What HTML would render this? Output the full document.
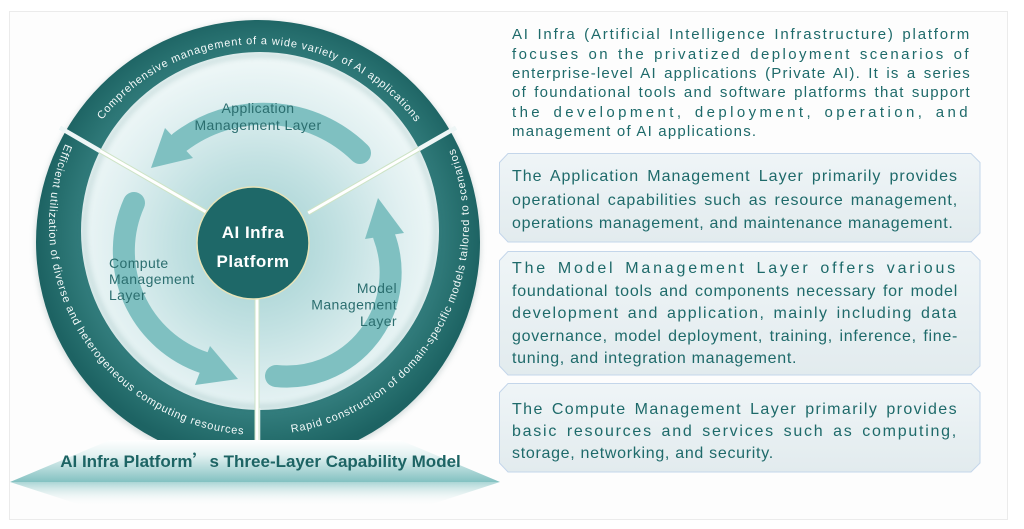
<!DOCTYPE html>
<html>
<head>
<meta charset="utf-8">
<style>
html,body{margin:0;padding:0;background:#ffffff;}
body{width:1024px;height:529px;overflow:hidden;position:relative;font-family:"Liberation Sans","Noto Sans CJK SC",sans-serif;}
svg{position:absolute;left:0;top:0;}
.blk{position:absolute;color:#1e6a6a;}
.p1 div{height:19.4px;line-height:19.4px;font-size:15px;overflow:hidden;text-align:justify;text-align-last:justify;}
.bx div{font-size:16px;overflow:hidden;text-align:justify;text-align-last:justify;}
.b1 div{height:23.5px;line-height:23.5px;}
.b2 div{height:22.5px;line-height:22.5px;}
.b3 div{height:22px;line-height:22px;}
div.last{text-align:left;text-align-last:left;}
</style>
</head>
<body>
<svg width="1024" height="529" viewBox="0 0 1024 529" xmlns="http://www.w3.org/2000/svg">
<defs>
  <radialGradient id="inner" cx="257" cy="246" r="186" gradientUnits="userSpaceOnUse">
    <stop offset="0" stop-color="#9fcfd0"/>
    <stop offset="0.45" stop-color="#c2e1e2"/>
    <stop offset="0.8" stop-color="#e1f0f1"/>
    <stop offset="1" stop-color="#eef7f7"/>
  </radialGradient>
  <radialGradient id="ringg" cx="259" cy="236" r="222" gradientUnits="userSpaceOnUse">
    <stop offset="0.8" stop-color="#327c7c"/>
    <stop offset="0.9" stop-color="#27706f"/>
    <stop offset="1" stop-color="#1d6363"/>
  </radialGradient>
  <linearGradient id="plat" x1="0" y1="440" x2="0" y2="483" gradientUnits="userSpaceOnUse">
    <stop offset="0" stop-color="#ffffff"/>
    <stop offset="0.35" stop-color="#e4f2f2"/>
    <stop offset="1" stop-color="#7fbfbf"/>
  </linearGradient>
  <linearGradient id="platr" x1="0" y1="482" x2="0" y2="506" gradientUnits="userSpaceOnUse">
    <stop offset="0" stop-color="#a6d3d3" stop-opacity="0.95"/>
    <stop offset="1" stop-color="#fdfdfd" stop-opacity="0"/>
  </linearGradient>
  <linearGradient id="box" x1="0" y1="0" x2="0" y2="1">
    <stop offset="0" stop-color="#eff5f7"/>
    <stop offset="1" stop-color="#e2ebee"/>
  </linearGradient>
  <filter id="blur" x="-20%" y="-20%" width="140%" height="140%"><feGaussianBlur stdDeviation="3"/></filter>
  <clipPath id="cut"><rect x="0" y="0" width="1024" height="441"/></clipPath>
  <path id="tpTop" d="M 78.6 158.3 A 198 198 0 0 1 437.4 158.3"/>
  <path id="tpLeft" d="M 87 104.6 A 210 210 0 0 0 277.3 434.2"/>
  <path id="tpRight" d="M 240.7 434.2 A 210 210 0 0 0 431 104.6"/>
</defs>

<!-- frame -->
<rect x="9.5" y="11.5" width="998" height="508" fill="#fdfdfd" stroke="#ebebeb" stroke-width="1"/>

<g clip-path="url(#cut)">
  <circle cx="258" cy="244" r="223" fill="#8fa5a5" opacity="0.35" filter="url(#blur)"/>
  <!-- interior -->
  <circle cx="260" cy="231" r="181" fill="url(#inner)"/>
  <!-- ring -->
  <path fill="url(#ringg)" fill-rule="evenodd" d="M 36 242 A 222 222 0 1 0 480 242 A 222 222 0 1 0 36 242 Z M 81 231 A 179 179 0 1 1 439 231 A 179 179 0 1 1 81 231 Z"/>
  <!-- inner shadow of ring -->
  <circle cx="260" cy="231" r="176" fill="none" stroke="#2b6f6f" stroke-width="4" opacity="0.22" filter="url(#blur)"/>
</g>

<!-- gap lines in ring -->
<g stroke="#eef6f6" stroke-width="4.5">
  <line x1="101" y1="151.5" x2="60" y2="127.7"/>
  <line x1="418" y1="149.5" x2="456" y2="127.7"/>
  <line x1="258" y1="408" x2="258" y2="441"/>
</g>

<!-- divider lines -->
<g stroke="#cde3c5" stroke-width="5">
  <line x1="207.8" y1="213" x2="100" y2="150.8"/>
  <line x1="308.2" y1="213" x2="419" y2="149"/>
  <line x1="257" y1="298" x2="257" y2="441"/>
</g>
<g stroke="#ffffff" stroke-width="3">
  <line x1="207.8" y1="213" x2="100" y2="150.8"/>
  <line x1="308.2" y1="213" x2="419" y2="149"/>
  <line x1="257" y1="298" x2="257" y2="441"/>
</g>

<!-- arrows -->
<g fill="none" stroke="#7fc0c1" stroke-width="22" stroke-linecap="round">
  <path d="M 360 153 A 138 138 0 0 0 180 142"/>
  <path d="M 134 203 A 118 118 0 0 0 203.8 362.6"/>
  <path d="M 276 376 A 104 104 0 0 0 384 236"/>
</g>
<g fill="#7fc0c1">
  <polygon points="151,168 165,128 193,158"/>
  <polygon points="238,379 210,346 195,385"/>
  <polygon points="378,198 365,239 404,233"/>
</g>

<!-- center disc -->
<circle cx="253" cy="243" r="56" fill="#1e6868" stroke="#e7e3b8" stroke-width="1.5"/>
<g fill="#ffffff" font-family="Liberation Sans, sans-serif" font-weight="bold" font-size="17" text-anchor="middle" letter-spacing="0.5">
  <text x="253" y="238">AI Infra</text>
  <text x="253" y="267">Platform</text>
</g>

<!-- labels -->
<g fill="#2b6e6f" font-family="Liberation Sans, sans-serif" font-size="14" letter-spacing="0.4">
  <text x="258" y="113" text-anchor="middle">Application</text>
  <text x="258" y="130" text-anchor="middle">Management Layer</text>
  <text x="109" y="268">Compute</text>
  <text x="109" y="284">Management</text>
  <text x="109" y="300">Layer</text>
  <text x="397" y="293" text-anchor="end">Model</text>
  <text x="397" y="309.5" text-anchor="end">Management</text>
  <text x="397" y="326" text-anchor="end">Layer</text>
</g>

<!-- ring texts -->
<g fill="#f4fafa" font-family="Liberation Sans, sans-serif" font-size="11" letter-spacing="0.8">
  <text text-anchor="middle"><textPath href="#tpTop" startOffset="50.4%">Comprehensive management of a wide variety of AI applications</textPath></text>
  <text text-anchor="middle"><textPath href="#tpLeft" startOffset="51.2%">Efficient utilization of diverse and heterogeneous computing resources</textPath></text>
  <text text-anchor="middle"><textPath href="#tpRight" startOffset="50.2%">Rapid construction of domain-specific models tailored to scenarios</textPath></text>
</g>

<!-- platform -->
<polygon points="10,482 110,440 400,440 500,482" fill="url(#plat)"/>
<polygon points="10,482 500,482 420,508 90,508" fill="url(#platr)"/>
<text x="260.5" y="467" text-anchor="middle" fill="#1d6464" font-family="Liberation Sans, sans-serif" font-weight="bold" font-size="17">AI Infra Platform<tspan font-family="Noto Sans CJK SC, sans-serif">’</tspan>s Three-Layer Capability Model</text>

<!-- boxes -->
<g fill="url(#box)" stroke="#c4d6ea" stroke-width="1">
  <polygon points="508,153.5 971,153.5 980,162.5 980,233 971,242 508,242 499.5,233 499.5,162.5"/>
  <polygon points="508,251.5 971,251.5 980,260.5 980,366 971,375 508,375 499.5,366 499.5,260.5"/>
  <polygon points="508,383.5 971,383.5 980,392.5 980,463 971,472 508,472 499.5,463 499.5,392.5"/>
</g>
</svg>

<div class="blk p1" style="left:512px;top:25.2px;width:459px;">
  <div style="letter-spacing:1.8px">AI Infra (Artificial Intelligence Infrastructure) platform</div>
  <div style="letter-spacing:2.4px">focuses on the privatized deployment scenarios of</div>
  <div style="letter-spacing:1.2px">enterprise-level AI applications (Private AI). It is a series</div>
  <div style="letter-spacing:1.3px">of foundational tools and software platforms that support</div>
  <div style="letter-spacing:3.4px">the development, deployment, operation, and</div>
  <div class="last" style="letter-spacing:1.2px">management of AI applications.</div>
</div>

<div class="blk bx b1" style="left:512px;top:165.1px;width:446px;">
  <div style="letter-spacing:1.0px">The Application Management Layer primarily provides</div>
  <div style="letter-spacing:0.85px">operational capabilities such as resource management,</div>
  <div class="last" style="letter-spacing:0.7px">operations management, and maintenance management.</div>
</div>

<div class="blk bx b2" style="left:512px;top:258.1px;width:446px;">
  <div style="letter-spacing:2.8px">The Model Management Layer offers various</div>
  <div style="letter-spacing:0.75px">foundational tools and components necessary for model</div>
  <div style="letter-spacing:1.45px">development and application, mainly including data</div>
  <div style="letter-spacing:0.7px">governance, model deployment, training, inference, fine-</div>
  <div class="last" style="letter-spacing:0.7px">tuning, and integration management.</div>
</div>

<div class="blk bx b3" style="left:512px;top:399.2px;width:446px;">
  <div style="letter-spacing:1.4px">The Compute Management Layer primarily provides</div>
  <div style="letter-spacing:1.75px">basic resources and services such as computing,</div>
  <div class="last" style="letter-spacing:0.7px">storage, networking, and security.</div>
</div>
</body>
</html>
